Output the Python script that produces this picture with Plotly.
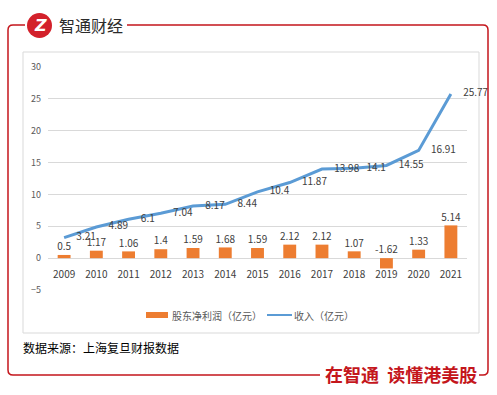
import plotly.graph_objects as go

years = ["2009", "2010", "2011", "2012", "2013", "2014", "2015", "2016", "2017", "2018", "2019", "2020", "2021"]
profit = [0.5, 1.17, 1.06, 1.4, 1.59, 1.68, 1.59, 2.12, 2.12, 1.07, -1.62, 1.33, 5.14]
revenue = [3.21, 4.89, 6.1, 7.04, 8.17, 8.44, 10.4, 11.87, 13.98, 14.1, 14.55, 16.91, 25.77]
y_ticks = [-5, 0, 5, 10, 15, 20, 25, 30]
name_profit = "股东净利润（亿元）"
name_revenue = "收入（亿元）"

W, H = 497, 395
ML, MR, MT, MB = 48, 30, 67, 105
PW, PH = W - ML - MR, H - MT - MB

def px(x):
    return (x - ML) / PW

def py(y):
    return (H - MB - y) / PH

RED = "#C4161C"
ORANGE = "#ED7D31"
BLUE = "#5B9BD5"
CJK = "Noto Sans CJK SC"

fig = go.Figure()
fig.add_trace(go.Bar(x=years, y=profit, name=name_profit, marker=dict(color=ORANGE, line=dict(width=0)),
                     width=0.4, showlegend=False, hoverinfo="skip"))
fig.add_trace(go.Scatter(x=years, y=[max(v, 0) for v in profit], mode="markers+text", text=[str(v) for v in profit],
                         textposition="top center", marker=dict(size=2, opacity=0),
                         textfont=dict(family=CJK, size=10, color="#404040"),
                         showlegend=False, hoverinfo="skip", cliponaxis=False))
fig.add_trace(go.Scatter(x=years, y=revenue, name=name_revenue, mode="lines+markers+text", text=[str(v) for v in revenue],
                         textposition="middle right", line=dict(color=BLUE, width=3),
                         marker=dict(size=18, opacity=0),
                         textfont=dict(family=CJK, size=10, color="#404040"),
                         showlegend=False, hoverinfo="skip", cliponaxis=False))

shapes = []
# inner gray box
shapes.append(dict(type="rect", xref="paper", yref="paper", x0=px(23), x1=px(479), y0=py(333), y1=py(52),
                   line=dict(color="#D9D9D9", width=1), layer="below"))

def path(points):
    s = ""
    for cmd, *coords in points:
        s += cmd
        vals = []
        for i in range(0, len(coords), 2):
            vals.append(f"{px(coords[i]):.5f},{py(coords[i+1]):.5f}")
        s += " ".join(vals) + " "
    return s.strip()

# red frame left part
shapes.append(dict(type="path", xref="paper", yref="paper",
                   path=path([("M", 25, 25), ("L", 13, 25), ("Q", 8, 25, 8, 30), ("L", 8, 370),
                              ("Q", 8, 375, 13, 375), ("L", 320, 375)]),
                   line=dict(color=RED, width=1.5)))
# red frame right part
shapes.append(dict(type="path", xref="paper", yref="paper",
                   path=path([("M", 479, 375), ("L", 483, 375), ("Q", 488, 375, 488, 370), ("L", 488, 30),
                              ("Q", 488, 25, 483, 25), ("L", 127, 25)]),
                   line=dict(color=RED, width=1.5)))
# logo circle
shapes.append(dict(type="circle", xref="paper", yref="paper", x0=px(27), x1=px(52), y0=py(38), y1=py(13),
                   fillcolor="#D3212B", line=dict(width=0)))
# legend
shapes.append(dict(type="rect", xref="paper", yref="paper", x0=px(146), x1=px(168), y0=py(318), y1=py(312),
                   fillcolor=ORANGE, line=dict(width=0)))
shapes.append(dict(type="line", xref="paper", yref="paper", x0=px(267), x1=px(292), y0=py(315), y1=py(315),
                   line=dict(color=BLUE, width=2)))

annotations = [
    dict(x=px(40), y=py(26), xref="paper", yref="paper", text="<b><i>Z</i></b>", showarrow=False,
         font=dict(family="DejaVu Sans", size=16, color="white"), xanchor="center", yanchor="middle"),
    dict(x=px(57), y=py(25), xref="paper", yref="paper", text="智通财经", showarrow=False,
         font=dict(family=CJK, size=16, color="#2b2b2b"), xanchor="left", yanchor="middle"),
    dict(x=px(170), y=py(315), xref="paper", yref="paper", text=name_profit, showarrow=False,
         font=dict(family=CJK, size=10, color="#595959"), xanchor="left", yanchor="middle"),
    dict(x=px(292), y=py(315), xref="paper", yref="paper", text=name_revenue, showarrow=False,
         font=dict(family=CJK, size=10, color="#595959"), xanchor="left", yanchor="middle"),
    dict(x=px(21), y=py(348), xref="paper", yref="paper", text="数据来源：上海复旦财报数据", showarrow=False,
         font=dict(family=CJK, size=12, color="#000000"), xanchor="left", yanchor="middle"),
    dict(x=px(401), y=py(374), xref="paper", yref="paper", text="<b>在智通  读懂港美股</b>", showarrow=False,
         font=dict(family=CJK, size=18, color=RED), xanchor="center", yanchor="middle", bgcolor="white"),
]

fig.update_layout(
    width=W, height=H, margin=dict(l=ML, r=MR, t=MT, b=MB),
    paper_bgcolor="white", plot_bgcolor="white",
    shapes=shapes, annotations=annotations,
    bargap=0.6,
    xaxis=dict(type="category", range=[-0.5, 12.5], showgrid=False, showline=False, ticks="",
               anchor="free", position=py(258), automargin=False, ticklabelstandoff=9,
               tickfont=dict(family=CJK, size=10, color="#404040"), fixedrange=True, zeroline=False),
    yaxis=dict(range=[-5, 30], tickvals=y_ticks, showgrid=True, gridcolor="#D9D9D9", gridwidth=1,
               zeroline=True, zerolinecolor="#D9D9D9", zerolinewidth=1, showline=False, ticks="",
               automargin=False, ticklabelstandoff=6,
               tickfont=dict(family=CJK, size=9, color="#595959"), fixedrange=True),
)

fig.write_html("out.html", config={"displayModeBar": False},
               post_script="document.body.style.margin='0';document.body.style.padding='0';")
